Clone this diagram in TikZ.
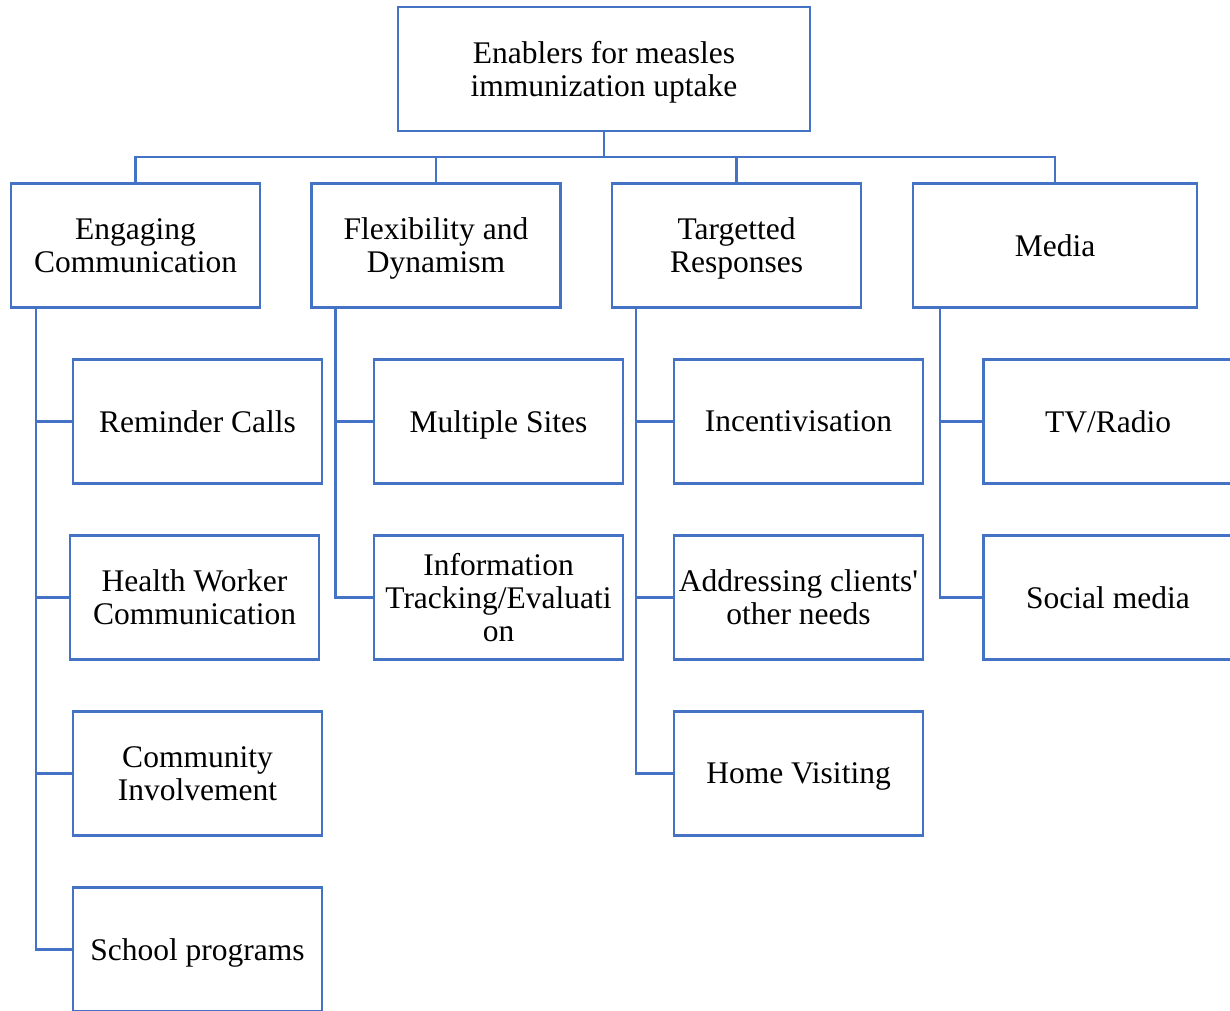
\documentclass[tikz,border=0pt]{standalone}
\usepackage{fontspec}
\setmainfont{Liberation Serif}
\usetikzlibrary{positioning}
\definecolor{boxblue}{HTML}{4472C4}

\begin{document}
\begin{tikzpicture}[x=1pt,y=1pt,node distance=176pt]
	\tikzstyle{box} = [rectangle, minimum width=249pt, minimum height=124pt, draw=boxblue, line width=2.5pt, align=center, text depth=0pt, font=\fontsize{31.5}{33}\selectfont]
	\tikzstyle{line} = [draw=boxblue, line width=2.5pt]
  \useasboundingbox (0,0) rectangle (1230,-1010);
  \clip (0,0) rectangle (1230,-1010);
  \node(root)[box, minimum width=412pt] at (604,-69) {Enablers for measles\\immunization uptake};
  \node(eng)[box] at (135.5,-245.5) {Engaging\\Communication};
  \node(flex)[box] at (436,-245.5) {Flexibility and\\Dynamism};
  \node(targ)[box] at (736.5,-245.5) {Targetted\\Responses};
  \node(media)[box, minimum width=284pt] at (1055,-245.5) {Media};

  \node(remind)[box, below of = eng, xshift=62pt] {Reminder Calls};
  \node(hw)[box, below of = remind, xshift=-3pt] {Health Worker\\Communication};
  \node(comm)[box, below of = hw, xshift=3pt] {Community\\Involvement};
  \node(school)[box, below of = comm] {School programs};

  \node(sites)[box, below of = flex, xshift=62.5pt] {Multiple Sites};
  \node(info)[box, below of = sites] {Information\\Tracking/Evaluati\\on};

  \node(incent)[box, below of = targ, xshift=62pt] {Incentivisation};
  \node(needs)[box, below of = incent] {Addressing clients\textquotesingle\\other needs};
  \node(home)[box, below of = needs] {Home Visiting};

  \node(tv)[box, below of = media, xshift=53pt] {TV/Radio};
  \node(social)[box, below of = tv] {Social media};

  \coordinate(bus) at (604,-157);
  \draw [line] (root.south) -- (bus);
  \draw [line] (bus) -| (eng.north);
  \draw [line] (bus) -| (flex.north);
  \draw [line] (bus) -| (targ.north);
  \draw [line] (bus) -| (media.north);

  \draw [line] ([xshift=26pt]eng.south west) |- (remind.west);
  \draw [line] ([xshift=26pt]eng.south west) |- (hw.west);
  \draw [line] ([xshift=26pt]eng.south west) |- (comm.west);
  \draw [line] ([xshift=26pt]eng.south west) |- (school.west);
  \draw [line] ([xshift=25pt]flex.south west) |- (sites.west);
  \draw [line] ([xshift=25pt]flex.south west) |- (info.west);
  \draw [line] ([xshift=25pt]targ.south west) |- (incent.west);
  \draw [line] ([xshift=25pt]targ.south west) |- (needs.west);
  \draw [line] ([xshift=25pt]targ.south west) |- (home.west);
  \draw [line] ([xshift=28pt]media.south west) |- (tv.west);
  \draw [line] ([xshift=28pt]media.south west) |- (social.west);
\end{tikzpicture}
\end{document}
